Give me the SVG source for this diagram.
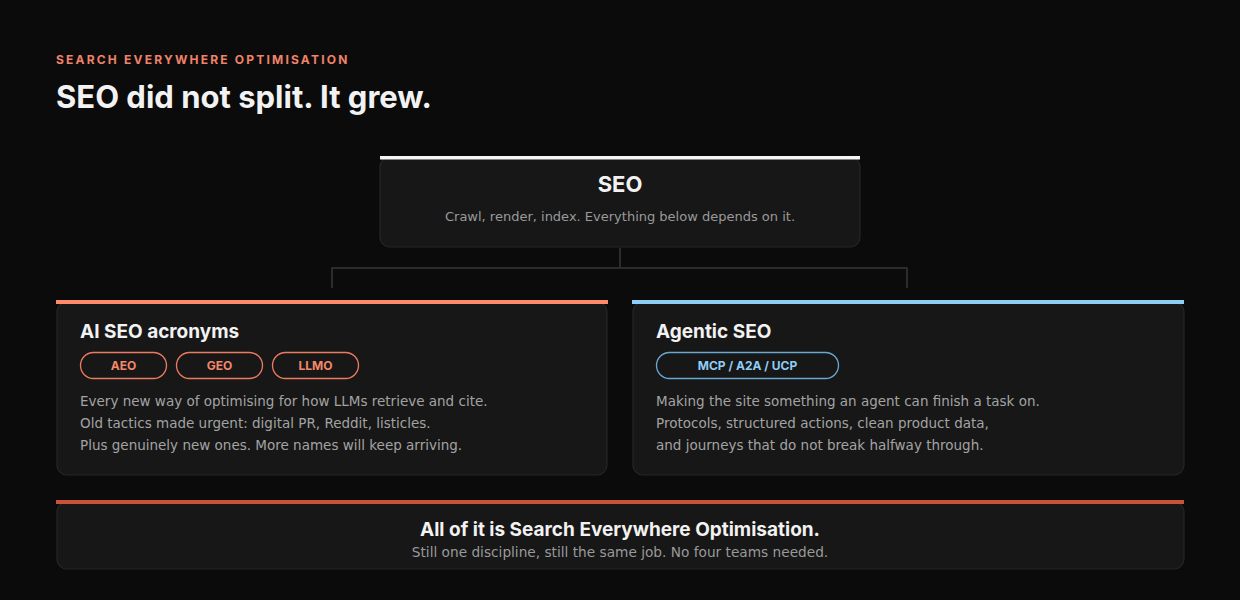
<svg xmlns="http://www.w3.org/2000/svg" width="1240" height="600" viewBox="0 0 1240 600">
<style>
.card{fill:#171717;stroke:#262626;stroke-width:1.2}
.head{font-family:"Inter","Liberation Sans",sans-serif;font-weight:700;fill:#f2f2f2}
.body{font-family:"DejaVu Sans",sans-serif;font-size:13.5px;fill:#a3a3a3}
.sub{font-family:"DejaVu Sans",sans-serif;font-size:13px;fill:#9a9a9a}
.sub2{font-family:"DejaVu Sans",sans-serif;font-size:13.7px;fill:#9a9a9a}
.pill{fill:none;stroke-width:1.3}
.ptxt{font-family:"Inter","Liberation Sans",sans-serif;font-weight:700;font-size:12px;text-anchor:middle}
.conn{fill:none;stroke:#2c2c2c;stroke-width:2;stroke-linejoin:round}
</style>
<rect width="1240" height="600" fill="#0b0b0b"/>
<text x="56" y="64" font-family="Inter, 'Liberation Sans', sans-serif" font-weight="700" font-size="12" letter-spacing="2.2" fill="#f0826a">SEARCH EVERYWHERE OPTIMISATION</text>
<text class="head" x="56" y="108" font-size="31">SEO did not split. It grew.</text>
<g id="connectors">
<path class="conn" d="M620 248 V268"/>
<path class="conn" d="M332 288 V268 H907 V288"/>
</g>
<g id="seo">
<rect class="card" x="380" y="157" width="480" height="90" rx="10"/>
<rect x="380" y="156" width="480" height="3.5" fill="#f5f5f5"/>
<text class="head" x="620" y="192" font-size="22" text-anchor="middle">SEO</text>
<text class="sub" x="620" y="221" text-anchor="middle">Crawl, render, index. Everything below depends on it.</text>
</g>
<g id="ai-seo">
<rect class="card" x="57" y="302" width="550" height="173" rx="10"/>
<rect x="56" y="300" width="552" height="4" fill="#ff8a6b"/>
<text class="head" x="80" y="338" font-size="19">AI SEO acronyms</text>
<rect class="pill" x="80.5" y="352.5" width="86" height="26" rx="13" stroke="#ec7b61"/>
<text class="ptxt" x="123.5" y="370" fill="#f5876a">AEO</text>
<rect class="pill" x="176.5" y="352.5" width="86" height="26" rx="13" stroke="#ec7b61"/>
<text class="ptxt" x="219.5" y="370" fill="#f5876a">GEO</text>
<rect class="pill" x="272.5" y="352.5" width="86" height="26" rx="13" stroke="#ec7b61"/>
<text class="ptxt" x="315.5" y="370" fill="#f5876a">LLMO</text>
<text class="body" x="80" y="406">Every new way of optimising for how LLMs retrieve and cite.</text>
<text class="body" x="80" y="428">Old tactics made urgent: digital PR, Reddit, listicles.</text>
<text class="body" x="80" y="450">Plus genuinely new ones. More names will keep arriving.</text>
</g>
<g id="agentic-seo">
<rect class="card" x="633" y="302" width="551" height="173" rx="10"/>
<rect x="632" y="300" width="552" height="4" fill="#8ecdf5"/>
<text class="head" x="656" y="338" font-size="19">Agentic SEO</text>
<rect class="pill" x="656.5" y="352.5" width="182" height="26" rx="13" stroke="#6aa8d2"/>
<text class="ptxt" x="747.5" y="370" fill="#8ecdf5">MCP / A2A / UCP</text>
<text class="body" x="656" y="406">Making the site something an agent can finish a task on.</text>
<text class="body" x="656" y="428">Protocols, structured actions, clean product data,</text>
<text class="body" x="656" y="450">and journeys that do not break halfway through.</text>
</g>
<g id="summary">
<rect class="card" x="57" y="502" width="1127" height="67" rx="10"/>
<rect x="56" y="500" width="1128" height="4" fill="#c9523a"/>
<text class="head" x="620" y="536" font-size="19" text-anchor="middle">All of it is Search Everywhere Optimisation.</text>
<text class="sub2" x="620" y="557" text-anchor="middle">Still one discipline, still the same job. No four teams needed.</text>
</g>
</svg>
